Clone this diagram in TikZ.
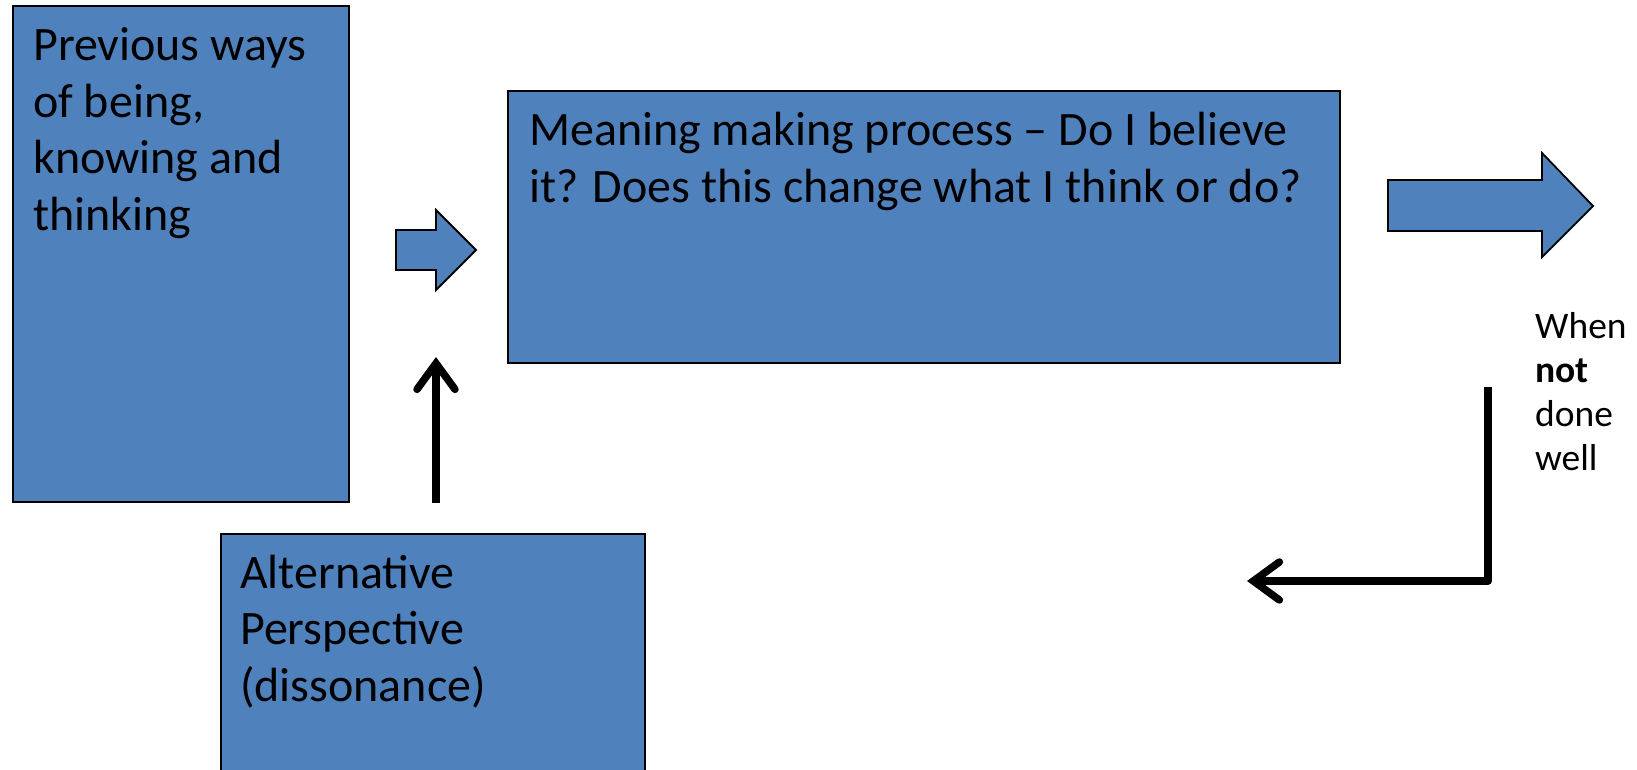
\documentclass[tikz,border=0pt]{standalone}
\usepackage{fontspec}
\setmainfont{Carlito}
\usetikzlibrary{arrows.meta}
\definecolor{boxblue}{RGB}{79,129,189}
\tikzset{
  bluebox/.style={draw=black, line width=1.8pt, fill=boxblue},
  boxtext/.style={anchor=base west, inner sep=0pt, font=\fontsize{48}{56.5}\selectfont},
  smalltext/.style={anchor=base west, inner sep=0pt, font=\fontsize{37.5}{44}\selectfont},
  connector/.style={line width=7.5pt, line join=round, -{Straight Barb[length=26pt, width=38pt, line cap=round, line width=7.5pt]}},
}
\begin{document}
\begin{tikzpicture}[x=1pt,y=-1pt]
\useasboundingbox (0,0) rectangle (1637,770);
\begin{scope}
\clip (0,0) rectangle (1637,770);
% boxes
\node[bluebox, minimum width=336pt, minimum height=496pt, anchor=north west, inner sep=0pt] (prev) at (12,5) {};
\node[bluebox, minimum width=832pt, minimum height=272pt, anchor=north west, inner sep=0pt] (mean) at (507,90) {};
\node[bluebox, minimum width=424pt, minimum height=260pt, anchor=north west, inner sep=0pt] (alt) at (220,533) {};
\end{scope}
% texts
\node[boxtext] (prevtext) at (33,61) {\begin{tabular}[t]{@{}l@{}}Previous ways\\of being,\\knowing and\\thinking\end{tabular}};
\node[boxtext] (meantext) at (529,146) {\begin{tabular}[t]{@{}l@{}}Meaning making process – Do I believe\\it? Does this change what I think or do?\end{tabular}};
\node[boxtext] (alttext) at (240,588) {\begin{tabular}[t]{@{}l@{}}Alternative\\Perspective\\(dissonance)\end{tabular}};
\node[smalltext] (when) at (1535,338) {\begin{tabular}[t]{@{}l@{}}When\\\textbf{not}\\done\\well\end{tabular}};
% block arrows
\draw[bluebox] (396,230) -- (436,230) -- (436,210) -- (476,250) -- (436,290) -- (436,270) -- (396,270) -- cycle;
\draw[bluebox] (1388,180) -- (1542,180) -- (1542,153) -- (1593,206) -- (1542,257) -- (1542,231) -- (1388,231) -- cycle;
% connectors
\coordinate (upstart) at (436,503);
\coordinate (upend) at (436,357);
\draw[connector] (upstart) -- (upend);
\coordinate (elstart) at (1488,387);
\coordinate (elend) at (1247,581);
\draw[connector] (elstart) |- (elend);
\end{tikzpicture}
\end{document}
